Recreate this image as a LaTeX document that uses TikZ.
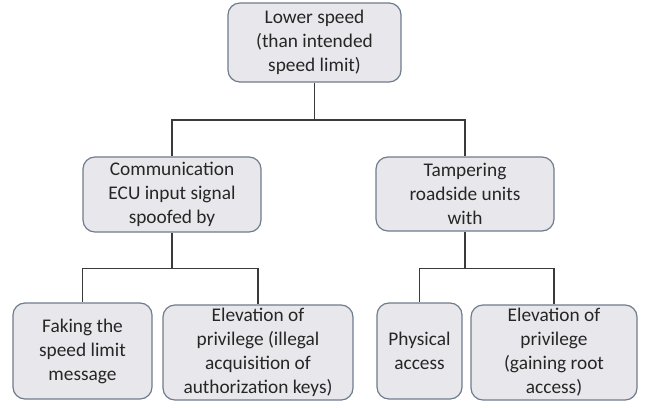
\documentclass[tikz,border=0pt]{standalone}
\usepackage{fontspec}
\setmainfont{Carlito}
\definecolor{boxfill}{HTML}{E8E8EC}
\definecolor{boxedge}{HTML}{6E7C8C}
\definecolor{linkcol}{HTML}{3A3A3A}
\tikzset{
	box/.style={draw=boxedge, fill=boxfill, rounded corners=9pt, line width=0.9pt,
		align=center, inner sep=0pt, text=black!85,
		font=\fontsize{14.5}{18}\selectfont},
	link/.style={draw=linkcol, line width=1.2pt}
}
\begin{document}
\begin{tikzpicture}[x=0.75pt, y=-0.75pt]
		\useasboundingbox (0, 0) rectangle (649, 407);
		\node [box, minimum width=129.8pt, minimum height=59.3pt] (0) at (314.5, 42.5) {Lower speed\\(than intended\\speed limit)};
		\node [box, minimum width=133.5pt, minimum height=56.3pt] (1) at (172, 194.5) {Communication\\ECU input signal\\spoofed by};
		\node [box, minimum width=133.5pt, minimum height=55.5pt] (2) at (465, 194) {Tampering\\roadside units\\with};
		\node [box, minimum width=104.3pt, minimum height=72pt] (3) at (82.5, 351) {Faking the\\speed limit\\message};
		\node [box, minimum width=142.5pt, minimum height=71.3pt] (4) at (258, 352.5) {Elevation of\\privilege (illegal\\acquisition of\\authorization keys)};
		\node [box, minimum width=63.8pt, minimum height=72pt] (5) at (419.5, 351) {Physical\\access};
		\node [box, minimum width=124.5pt, minimum height=71.3pt] (6) at (554, 352.5) {Elevation of\\privilege\\(gaining root\\access)};
		\coordinate (7) at (314.5, 120);
		\coordinate (8) at (172, 268.5);
		\coordinate (9) at (465, 268.5);
		\draw [link] (0.south) to (7);
		\draw [link] (7) -| (1.north);
		\draw [link] (7) -| (2.north);
		\draw [link] (1.south) to (8);
		\draw [link] (8) -| (3.north);
		\draw [link] (8) -| (4.north);
		\draw [link] (2.south) to (9);
		\draw [link] (9) -| (5.north);
		\draw [link] (9) -| (6.north);
\end{tikzpicture}
\end{document}
